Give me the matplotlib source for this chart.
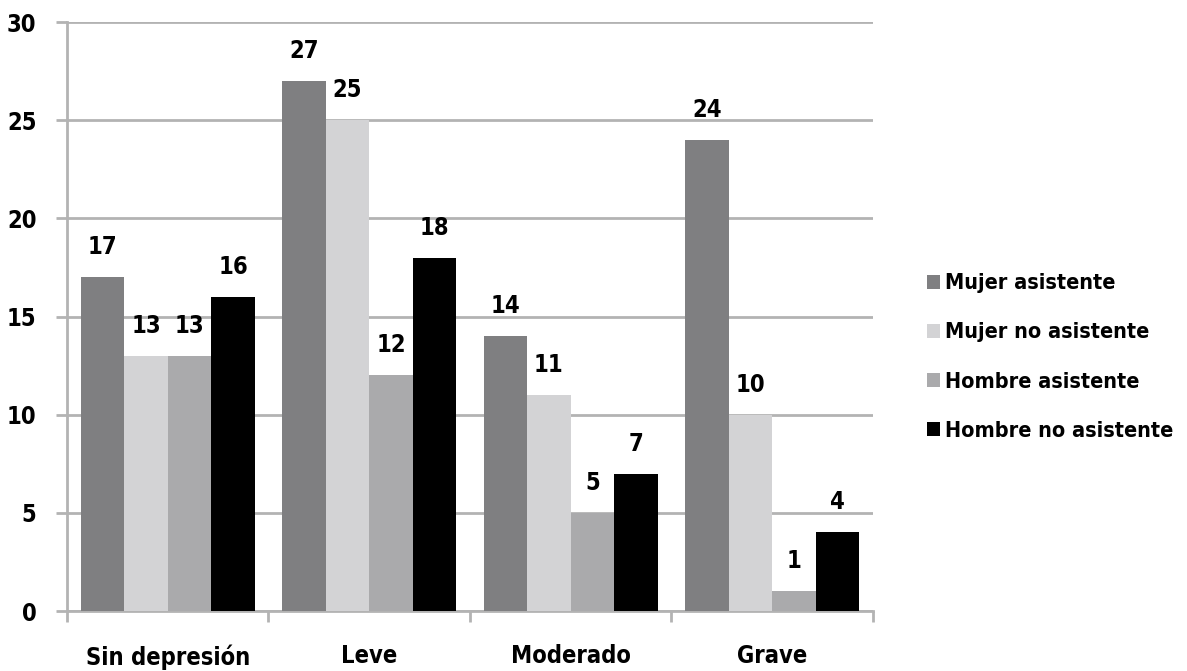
import matplotlib.pyplot as plt
import numpy as np

categories = ['Sin depresión', 'Leve', 'Moderado', 'Grave']
series = ['Mujer asistente', 'Mujer no asistente', 'Hombre asistente', 'Hombre no asistente']
values = [
    [17, 27, 14, 24],
    [13, 25, 11, 10],
    [13, 12, 5, 1],
    [16, 18, 7, 4],
]
colors = ['#7f7f81', '#d3d3d5', '#aaaaac', '#000000']

plt.rcParams['font.family'] = ['DejaVu Sans']
plt.rcParams['font.stretch'] = 'condensed'
plt.rcParams['font.weight'] = 'bold'

fig = plt.figure(figsize=(11.87, 6.71), dpi=100)
ax = fig.add_axes([0.0564, 0.0894, 0.679, 0.8778])

x = np.arange(len(categories))
w = 0.216
grid_c = '#b3b3b3'

for i, (name, vals) in enumerate(zip(series, values)):
    pos = x + (i - 1.5) * w
    ax.bar(pos, vals, w, color=colors[i], label=name, zorder=3)
    for px, v in zip(pos, vals):
        ax.annotate(str(v), (px, v), textcoords='offset points', xytext=(0, 13),
                    ha='center', va='bottom', fontsize=17, fontweight='bold')

ax.set_xlim(-0.5, 3.5)
ax.set_ylim(0, 30)
ax.set_yticks(np.arange(0, 31, 5))
ax.yaxis.grid(True, color=grid_c, linewidth=2, zorder=0)
ax.set_xticks(x)
ax.set_xticklabels(categories, fontsize=17, fontweight='bold')
ax.tick_params(axis='x', length=0, pad=24)
ax.set_xticks(np.arange(-0.5, 4, 1), minor=True)
ax.tick_params(axis='x', which='minor', length=8, width=2, color=grid_c)
ax.tick_params(axis='y', length=8, width=2, color=grid_c, labelsize=17, pad=14)
for t in ax.get_yticklabels():
    t.set_fontweight('bold')

for s in ['top', 'right']:
    ax.spines[s].set_visible(False)
for s in ['left', 'bottom']:
    ax.spines[s].set_color(grid_c)
    ax.spines[s].set_linewidth(2)

leg = fig.legend(loc='center left', bbox_to_anchor=(0.765, 0.468), frameon=False,
                 fontsize=15.5, handlelength=0.6, handleheight=0.6,
                 handletextpad=0.2, labelspacing=1.35)
for t in leg.get_texts():
    t.set_fontweight('bold')

fig.savefig('out.png', dpi=100)
